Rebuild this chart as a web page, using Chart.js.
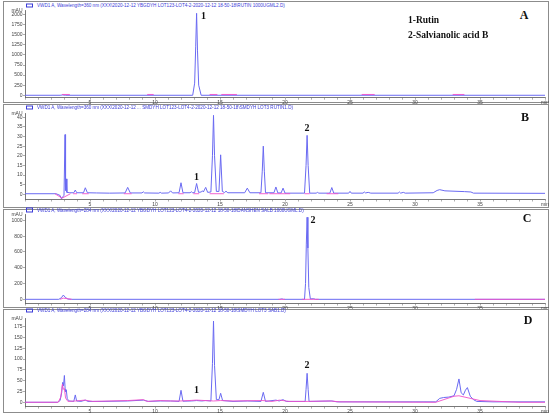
<!DOCTYPE html>
<html><head><meta charset="utf-8">
<script src="https://cdn.jsdelivr.net/npm/chart.js@4/dist/chart.umd.min.js"></script>
<style>
body{margin:0;width:550px;height:418px;background:#fff;position:relative;overflow:hidden;font-family:"Liberation Sans",Arial,sans-serif}
.frame{position:absolute;left:3px;width:546px;border:1px solid #8c8c8c;box-sizing:border-box}
.hdr{position:absolute;left:26px;font-size:4.6px;color:#3c3cd8;white-space:nowrap;line-height:5px;transform:translateY(-50%)}
.ico{display:inline-block;width:5px;height:2.4px;border:0.8px solid #3c3cd8;margin-right:4px;vertical-align:middle}
canvas{position:absolute;left:0}
.letter{position:absolute;font-family:"Liberation Serif",serif;font-weight:bold;font-size:12px;transform:translate(-50%,-50%);color:#111}
.legend{position:absolute;left:408px;font-family:"Liberation Serif",serif;font-weight:bold;font-size:9.5px;transform:translateY(-50%);white-space:nowrap;color:#111}
</style></head>
<body>
<script>
// ---------- data ----------
const xMajorTicks = [5, 10, 15, 20, 25, 30, 35];
const yTicksA = [0, 250, 500, 750, 1000, 1250, 1500, 1750, 2000];
const yTicksB = [0, 5, 10, 15, 20, 25, 30, 35, 40];
const yTicksC = [0, 200, 400, 600, 800, 1000];
const yTicksD = [0, 25, 50, 75, 100, 125, 150, 175];

// Panel A (360 nm, rutin standard)
const timeA  = [0, 2.7, 2.9, 3.1, 12.9, 13.05, 13.13, 13.2, 13.27, 13.36, 13.55, 40];
const valueA = [0, 0, 8, 0, 0, 300, 1200, 2030, 1100, 250, 0, 0];
const pinkTimeA  = [2.85, 3.45, null, 9.4, 9.9, null, 14.2, 14.8, null, 15.1, 16.3, null, 25.9, 26.9, null, 32.9, 33.8];
const pinkValueA = [20, 20, null, 20, 20, null, 20, 20, null, 20, 20, null, 20, 20, null, 20, 20];

// Panel B (360 nm, sample)
const timeB = [0, 2.4, 2.7, 2.8, 3.0, 3.08, 3.12, 3.17, 3.22, 3.45, 3.75, 3.87, 3.98, 4.5, 4.64, 4.8, 5.5, 6.5,
  7.7, 7.9, 8.1, 9.0, 9.1, 9.2, 10.3, 10.4, 10.5, 11.05, 11.2, 11.35, 11.85, 12.0, 12.15, 12.7, 12.8, 12.9,
  13.05, 13.2, 13.35, 13.55, 13.65, 13.72, 13.9, 14.05, 14.3, 14.42, 14.5, 14.58, 14.72, 14.92, 15.05, 15.18,
  15.35, 15.46, 15.6, 16.9, 17.1, 17.3, 18.15, 18.25, 18.33, 18.41, 18.5, 19.15, 19.3, 19.45, 19.7, 19.85, 20.0,
  21.5, 21.62, 21.7, 21.78, 21.9, 22.4, 22.5, 22.6, 23.45, 23.6, 23.75, 24.9, 25.0, 25.1, 26.0, 26.1, 26.2, 26.4,
  26.6, 28.7, 28.8, 28.9, 29.1, 29.25, 31.4, 31.7, 31.9, 32.3, 33.0, 33.8, 34.3, 34.5, 40];
const valueB = [0.3, 0.3, -0.6, -2.3, -0.5, 31, 2, 8, 1, 0.8, 0.8, 2.2, 0.8, 0.8, 3.4, 0.8, 0.7, 0.6,
  0.7, 3.6, 0.7, 0.7, 1.3, 0.7, 0.6, 1.0, 0.6, 0.7, 1.8, 0.7, 0.8, 6.0, 0.8, 0.8, 1.3, 0.8,
  0.9, 5.6, 1.0, 1.2, 1.8, 1.2, 3.6, 1.0, 1.2, 20, 41, 20, 1.5, 1.5, 20.5, 1.5,
  0.9, 1.6, 0.8, 0.8, 3.2, 0.8, 0.8, 12, 25, 12, 0.8, 0.8, 3.8, 0.7, 0.7, 3.2, 0.6,
  0.6, 15, 30.6, 15, 0.6, 0.6, 1.0, 0.6, 0.6, 3.5, 0.6, 0.6, 1.5, 0.6, 0.6, 1.2, 0.7, 1.0,
  0.6, 0.6, 1.2, 0.6, 1.0, 0.6, 0.8, 2.0, 2.4, 1.8, 1.6, 1.4, 1.2, 0.6, 0.5];
const pinkTimeB  = [2.3, 2.85, 3.5, null, 3.7, 4.0, null, 4.4, 4.9, null, 7.6, 8.2, null, 11.8, 12.2, null, 12.95, 13.4, null,
  14.2, 15.3, null, 18.0, 18.7, null, 18.8, 20.4, null, 21.5, 21.9, null, 23.2, 24.1];
const pinkValueB = [0.3, -2.0, 0.3, null, 0.3, 0.3, null, 0.3, 0.3, null, 0.3, 0.3, null, 0.3, 0.3, null, 0.3, 0.3, null,
  0.3, 0.3, null, 0.3, 0.3, null, 0.3, 0.3, null, 0.3, 0.3, null, 0.3, 0.3];

// Panel C (284 nm, salvianolic acid B standard)
const timeC  = [0, 2.6, 2.8, 2.95, 3.1, 3.3, 3.6, 19.6, 19.75, 19.9, 21.5, 21.58, 21.64, 21.7, 21.76, 21.83, 21.95, 22.2, 22.35, 40];
const valueC = [0, 0, 20, 54, 25, 3, 0, 0, 6, 0, 0, 200, 700, 1040, 650, 150, 5, 8, 0, 0];
const pinkTimeC  = [2.7, 2.95, 3.6, null, 19.5, 20.0, null, 21.3, 22.6, null, 34.6, 40];
const pinkValueC = [0, 15, 0, null, 0, 0, null, 0, 0, null, 0, 0];

// Panel D (284 nm, sample)
const timeD = [0, 2.5, 2.7, 2.82, 2.9, 2.96, 3.03, 3.09, 3.14, 3.18, 3.25, 3.4, 3.75, 3.87, 3.97, 4.3, 4.64, 4.85,
  6.0, 7.9, 9.1, 9.5, 10.4, 11.2, 11.85, 12.0, 12.15, 12.8, 13.2, 13.6, 13.9, 14.3, 14.42, 14.5, 14.58, 14.72,
  14.92, 15.05, 15.2, 16.0, 17.1, 18.15, 18.33, 18.5, 19.3, 19.55, 19.85, 20.1, 21.55, 21.62, 21.7, 21.78, 21.85,
  23.6, 24.0, 31.6, 31.9, 32.2, 32.6, 33.0, 33.2, 33.38, 33.55, 33.72, 33.88, 34.03, 34.25, 34.5, 34.75, 36, 40];
const valueD = [0, 0, 4, 22, 46, 38, 62, 30, 24, 28, 8, 3, 2, 17, 3, 2, 5, 2,
  2, 3, 5, 2, 3, 3, 2, 27.7, 2.5, 3, 4, 3, 4, 3, 90, 188, 85, 6,
  6, 20.8, 4, 2, 3, 2, 23, 2, 5, 3, 6, 2, 2, 30, 67, 30, 2,
  3, 1, 1, 9, 11, 12, 15, 30, 54, 22, 17, 28, 34, 14, 6, 2, 1, 1];
const pinkTimeD = [0, 2.55, 2.75, 2.88, 2.95, 3.03, 3.12, 3.3, 3.9, 4.6, 5.2, 7.9, 9.1, 9.4, 10.4, 11.2, 12.0, 13.2,
  14.5, 15.05, 16.0, 18.3, 19.0, 19.6, 19.85, 20.3, 21.7, 23.5, 24.2, 31.6, 33.0, 33.38, 35.0, 38.0, 40];
const pinkValueD = [0, 0, 12, 42, 30, 32, 10, 2, 3, 5, 2, 4, 6, 2, 4, 3, 3, 5,
  3, 4, 3, 4, 2, 5, 4, 2, 2, 3, 1, 0, 14, 15, 4, 0, 0];

const peakLabelsA = [{text: '1', t: 13.2, v: 2030}];
const peakLabelsB = [{text: '1', t: 13.2, v: 5.6}, {text: '2', t: 21.7, v: 30.6}];
const peakLabelsC = [{text: '2', t: 21.7, v: 1040}];
const peakLabelsD = [{text: '1', t: 13.2, v: 4}, {text: '2', t: 21.7, v: 67}];

const headerTexts = [
  'VWD1 A, Wavelength=360 nm (XXX\\2020-12-12 YBGDYH LOT123-LOT4-2-2020-12-12 18-50-18\\RUTIN 1000UGML2.D)',
  'VWD1 A, Wavelength=360 nm (XXX\\2020-12-12 ... SMDYH LOT123-LOT4-2-2020-12-12 18-50-18\\SMDYH LOT3 RUTIN1.D)',
  'VWD1 A, Wavelength=284 nm (XXX\\2020-12-12 YBGDYH LOT123-LOT4-2-2020-12-12 18-50-18\\DANSHEN SALB 1000UGML.D)',
  'VWD1 A, Wavelength=284 nm (XXX\\2020-12-12 YBGDYH LOT123-LOT4-2-2020-12-12 18-50-18\\SMDYH LOT3 SAB1.D)'
];
const panelLetters = ['A', 'B', 'C', 'D'];
const legendLines = ['1-Rutin', '2-Salvianolic acid B'];

// ---------- layout (page pixels) ----------
const layout = [
  {frameTop: 1, frameBottom: 102.5, hdrY: 5.3, letter: [524, 15], top: 10.5, bottom: 97.7, min: -60, max: 2100,
   ticks: yTicksA, blue: [timeA, valueA], pink: [pinkTimeA, pinkValueA], labels: peakLabelsA, offs: [[7, 3]]},
  {frameTop: 103.5, frameBottom: 207.5, hdrY: 107.3, letter: [525, 117], top: 113.4, bottom: 199.5, min: -2.7, max: 42,
   ticks: yTicksB, blue: [timeB, valueB], pink: [pinkTimeB, pinkValueB], labels: peakLabelsB, offs: [[0, -6], [0, -7]]},
  {frameTop: 208.5, frameBottom: 307.8, hdrY: 209.9, letter: [527, 218], top: 214.5, bottom: 303.5, min: -53, max: 1075,
   ticks: yTicksC, blue: [timeC, valueC], pink: [pinkTimeC, pinkValueC], labels: peakLabelsC, offs: [[6, 3]]},
  {frameTop: 308.5, frameBottom: 413, hdrY: 310.3, letter: [528, 320], top: 318, bottom: 406.6, min: -10, max: 195,
   ticks: yTicksD, blue: [timeD, valueD], pink: [pinkTimeD, pinkValueD], labels: peakLabelsD, offs: [[0, -10], [0, -8]]}
];

const textPlugin = {
  id: 'chromText',
  afterDraw(chart) {
    const p = chart.options.plugins.chromText;
    const ctx = chart.ctx, a = chart.chartArea;
    const xs = chart.scales.x, ys = chart.scales.y;
    ctx.save();
    ctx.fillStyle = '#444';
    ctx.font = '5px "Liberation Sans"';
    ctx.textAlign = 'right';
    ctx.textBaseline = 'middle';
    ctx.fillText('mAU', a.left - 2.5, a.top + 0.5);
    ctx.fillStyle = '#111';
    ctx.font = 'bold 10px "Liberation Serif"';
    ctx.textAlign = 'center';
    p.labels.forEach((l, i) => {
      const x = xs.getPixelForValue(l.t) + p.offs[i][0];
      const y = ys.getPixelForValue(l.v) + p.offs[i][1];
      ctx.fillText(l.text, x, y);
    });
    ctx.restore();
  }
};

const minorX = [];
for (let m = 0; m <= 40; m++) minorX.push(m);

layout.forEach((L, idx) => {
  const fr = document.createElement('div');
  fr.className = 'frame';
  fr.style.top = L.frameTop + 'px';
  fr.style.height = (L.frameBottom - L.frameTop) + 'px';
  document.body.appendChild(fr);

  const hd = document.createElement('div');
  hd.className = 'hdr';
  hd.style.top = L.hdrY + 'px';
  hd.innerHTML = '<span class="ico"></span>';
  hd.appendChild(document.createTextNode(headerTexts[idx]));
  document.body.appendChild(hd);

  const lt = document.createElement('div');
  lt.className = 'letter';
  lt.style.left = L.letter[0] + 'px';
  lt.style.top = L.letter[1] + 'px';
  lt.textContent = panelLetters[idx];
  document.body.appendChild(lt);

  const cTop = Math.floor(L.top - 10);
  const cH = Math.ceil(L.bottom + 8 - cTop);
  const padTop = L.top - cTop;
  const xH = cTop + cH - L.bottom;
  const cv = document.createElement('canvas');
  cv.width = 550; cv.height = cH;
  cv.style.top = cTop + 'px';
  cv.style.width = '550px'; cv.style.height = cH + 'px';
  document.body.appendChild(cv);

  const mk = (t, v) => t.map((x, i) => ({x: x === null ? NaN : x, y: v[i]}));
  new Chart(cv, {
    type: 'line',
    data: {
      datasets: [
        {data: mk(L.pink[0], L.pink[1]), borderColor: '#f04fc8', borderWidth: 0.9, pointRadius: 0, spanGaps: false, tension: 0},
        {data: mk(L.blue[0], L.blue[1]), borderColor: '#6a6af2', borderWidth: 1, pointRadius: 0, tension: 0}
      ]
    },
    options: {
      responsive: false, animation: false, events: [],
      layout: {padding: {top: padTop, left: 5, right: 5, bottom: 0}},
      plugins: {legend: {display: false}, tooltip: {enabled: false},
        chromText: {labels: L.labels, offs: L.offs}},
      scales: {
        x: {type: 'linear', min: 0, max: 40,
          afterFit(s) { s.height = xH; },
          afterBuildTicks(s) { s.ticks = minorX.map(v => ({value: v})); },
          ticks: {autoSkip: false, maxRotation: 0, padding: 0, color: '#444', font: {size: 5, family: 'Liberation Sans'},
            callback: v => v === 40 ? 'min' : (xMajorTicks.includes(v) ? String(v) : '')},
          grid: {drawOnChartArea: false, drawTicks: true, tickLength: 2, color: '#777', lineWidth: 0.6},
          border: {display: true, color: '#555', width: 0.8}},
        y: {type: 'linear', min: L.min, max: L.max,
          afterFit(s) { s.width = 20; },
          afterBuildTicks(s) { s.ticks = L.ticks.map(v => ({value: v})); },
          ticks: {autoSkip: false, padding: 0.5, color: '#444', font: {size: 5, family: 'Liberation Sans'},
            callback: v => String(v)},
          grid: {drawOnChartArea: false, drawTicks: true, tickLength: 2, color: '#777', lineWidth: 0.6},
          border: {display: true, color: '#555', width: 0.8}}
      }
    },
    plugins: [textPlugin]
  });
});

legendLines.forEach((s, i) => {
  const d = document.createElement('div');
  d.className = 'legend';
  d.style.top = (20 + i * 15) + 'px';
  d.textContent = s;
  document.body.appendChild(d);
});
</script>
</body></html>
